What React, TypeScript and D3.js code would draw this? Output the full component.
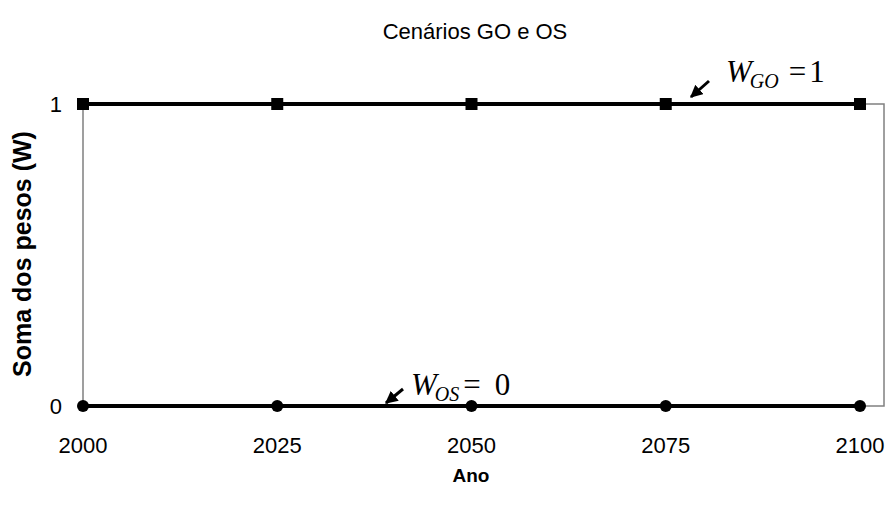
import React from "react";
import * as d3 from "d3";

const years = [2000, 2025, 2050, 2075, 2100];
const wGO = [1, 1, 1, 1, 1];
const wOS = [0, 0, 0, 0, 0];
const yTicks = [0, 1];
const title = "Cenários GO e OS";
const xLabel = "Ano";
const yLabel = "Soma dos pesos (W)";

const W = 891;
const H = 505;
const plotLeft = 83;
const plotRight = 884;
const plotTop = 104;
const plotBottom = 406;

export default function App() {
  const x = d3.scaleLinear().domain([2000, 2100]).range([plotLeft, 860]);
  const y = d3.scaleLinear().domain([0, 1]).range([plotBottom, plotTop]);
  const line = d3
    .line<number>()
    .x((_, i) => x(years[i]))
    .y((d) => y(d));
  const font = "Liberation Sans, Arial, sans-serif";
  const serif = "Liberation Serif, Times New Roman, serif";
  return (
    <svg
      width={W}
      height={H}
      style={{ position: "absolute", left: 0, top: 0, background: "#fff" }}
    >
      <defs>
        <marker
          id="ah"
          viewBox="0 0 10 10"
          refX="9"
          refY="5"
          markerWidth="4.2"
          markerHeight="4.2"
          orient="auto"
          markerUnits="strokeWidth"
        >
          <path d="M0,0 L10,5 L0,10 z" fill="#000" />
        </marker>
      </defs>
      <text
        x={475}
        y={39}
        textAnchor="middle"
        fontFamily={font}
        fontSize={22}
        fill="#000"
      >
        {title}
      </text>
      {/* plot box */}
      <rect
        x={plotLeft}
        y={plotTop}
        width={plotRight - plotLeft}
        height={plotBottom - plotTop}
        fill="none"
        stroke="#808080"
        strokeWidth={1.5}
      />
      {/* y ticks */}
      {yTicks.map((t) => (
        <g key={t}>
          <line
            x1={plotLeft - 5}
            x2={plotLeft}
            y1={y(t)}
            y2={y(t)}
            stroke="#808080"
            strokeWidth={1.5}
          />
          <text
            x={62}
            y={y(t)}
            dy="0.36em"
            textAnchor="end"
            fontFamily={font}
            fontSize={22}
            fill="#000"
          >
            {t}
          </text>
        </g>
      ))}
      {/* x ticks */}
      {years.map((t) => (
        <g key={t}>
          <line
            x1={x(t)}
            x2={x(t)}
            y1={plotBottom}
            y2={plotBottom + 5}
            stroke="#808080"
            strokeWidth={1.5}
          />
          <text
            x={x(t)}
            y={453}
            textAnchor="middle"
            fontFamily={font}
            fontSize={22}
            fill="#000"
          >
            {t}
          </text>
        </g>
      ))}
      <text
        x={471}
        y={482}
        textAnchor="middle"
        fontFamily={font}
        fontSize={19}
        fontWeight="bold"
        fill="#000"
      >
        {xLabel}
      </text>
      <text
        transform={`translate(31,254) rotate(-90)`}
        textAnchor="middle"
        fontFamily={font}
        fontSize={25}
        fontWeight="bold"
        fill="#000"
      >
        {yLabel}
      </text>
      {/* lines */}
      <path d={line(wGO) || ""} fill="none" stroke="#000" strokeWidth={4} />
      <path d={line(wOS) || ""} fill="none" stroke="#000" strokeWidth={4} />
      {wGO.map((v, i) => (
        <rect
          key={"g" + i}
          x={x(years[i]) - 6}
          y={y(v) - 6}
          width={12}
          height={12}
          fill="#000"
        />
      ))}
      {wOS.map((v, i) => (
        <circle key={"o" + i} cx={x(years[i])} cy={y(v)} r={6} fill="#000" />
      ))}
      {/* annotations */}
      <line
        x1={709}
        y1={81}
        x2={691}
        y2={97}
        stroke="#000"
        strokeWidth={3}
        markerEnd="url(#ah)"
      />
      <text x={726} y={82} fontFamily={serif} fontSize={31} fill="#000">
        <tspan fontStyle="italic">W</tspan>
        <tspan fontStyle="italic" fontSize={20} dy={6} dx={-2}>
          GO
        </tspan>
        <tspan dy={-6} dx={10}>
          =
        </tspan>
        <tspan dx={3}>1</tspan>
      </text>
      <line
        x1={403}
        y1={389}
        x2={386}
        y2={403}
        stroke="#000"
        strokeWidth={3}
        markerEnd="url(#ah)"
      />
      <text x={411} y={395} fontFamily={serif} fontSize={31} fill="#000">
        <tspan fontStyle="italic">W</tspan>
        <tspan fontStyle="italic" fontSize={20} dy={6} dx={-2}>
          OS
        </tspan>
        <tspan dy={-6} dx={4}>
          =
        </tspan>
        <tspan dx={14}>0</tspan>
      </text>
    </svg>
  );
}
